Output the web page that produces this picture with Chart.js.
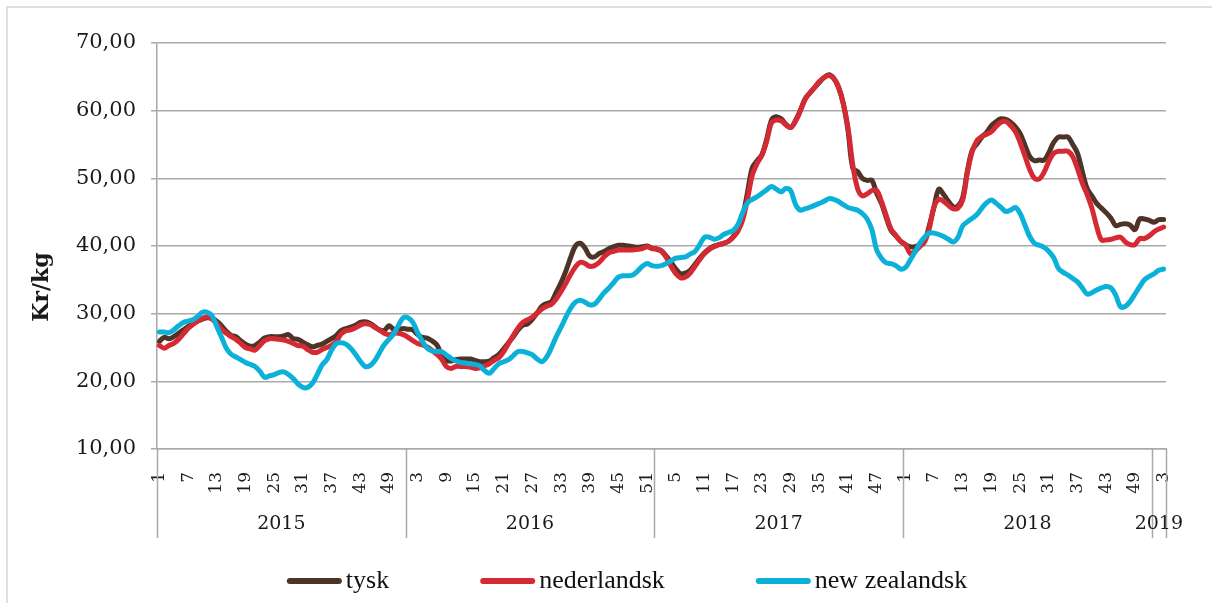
<!DOCTYPE html>
<html><head><meta charset="utf-8">
<script src="https://cdn.jsdelivr.net/npm/chart.js@4"></script>
<style>html,body{margin:0;padding:0;background:#fff;}canvas{display:block;}</style>
</head><body>
<canvas id="c" width="1212" height="603"></canvas>
<script>
const years = [2015, 2016, 2017, 2018, 2019];
const weeksPerYear = [52, 52, 52, 52, 3];
const seriesNames = ['tysk', 'nederlandsk', 'new zealandsk'];
const yTicks = [10, 20, 30, 40, 50, 60, 70];

const tysk = [
25.9,26.5,26.3,26.6,27.1,27.6,28.1,28.5,28.9,29.2,29.4,29.3,28.9,28.2,27.4,26.8,26.6,26.0,25.5,25.2,25.3,25.8,26.4,26.6,26.6,26.6,26.7,26.9,26.3,26.2,25.8,25.4,25.1,25.3,25.5,25.9,26.3,26.8,27.5,27.8,28.0,28.3,28.7,28.8,28.6,28.1,27.6,27.5,28.2,27.7,27.7,27.8,
27.7,27.6,26.9,26.5,26.4,26.0,25.4,24.0,23.1,23.0,23.2,23.3,23.3,23.3,23.1,22.9,22.9,23.0,23.5,24.0,24.8,25.7,26.6,27.6,28.3,28.5,29.2,30.1,31.1,31.5,31.8,33.2,34.6,36.3,38.3,40.0,40.4,39.7,38.5,38.4,38.9,39.2,39.6,39.9,40.1,40.1,40.0,39.9,39.8,39.9,40.0,39.7,
39.5,39.3,38.5,37.6,36.6,35.9,36.0,36.4,37.3,38.2,39.0,39.6,40.0,40.2,40.4,40.7,41.4,42.4,44.4,48.0,51.6,52.6,53.5,55.8,58.6,59.1,58.8,58.0,57.5,58.5,60.0,61.7,62.6,63.4,64.2,64.9,65.3,64.8,63.5,61.1,57.1,51.5,51.0,50.0,49.7,49.7,47.8,46.3,44.2,42.3,41.5,40.7,
40.2,39.9,39.9,40.2,40.7,43.0,45.8,48.4,47.6,46.6,45.8,45.9,47.2,51.2,54.2,55.1,56.1,56.8,57.8,58.4,58.8,58.7,58.3,57.6,56.6,54.9,53.2,52.6,52.7,52.7,53.8,55.3,56.1,56.1,56.1,55.0,53.7,51.0,48.5,47.4,46.3,45.6,44.9,44.1,43.0,43.2,43.3,43.1,42.4,44.0,44.0,43.8,
43.5,43.9,43.9
];
const nederlandsk = [
25.3,24.9,25.3,25.6,26.2,27.0,27.8,28.4,28.9,29.3,29.5,29.2,28.5,27.7,27.1,26.6,26.2,25.6,25.0,24.8,24.6,25.3,26.0,26.3,26.3,26.2,26.1,25.9,25.6,25.3,25.2,24.7,24.3,24.3,24.7,25.0,25.3,25.9,27.0,27.5,27.6,27.9,28.3,28.5,28.4,28.0,27.6,27.1,26.9,27.1,27.1,26.9,
26.5,26.0,25.6,25.4,25.1,24.6,24.0,23.3,22.2,21.9,22.2,22.2,22.2,22.1,21.9,22.0,22.3,22.6,23.1,23.5,24.4,25.6,26.8,27.9,28.7,29.1,29.5,30.1,30.7,31.1,31.4,32.2,33.3,34.5,35.8,36.9,37.6,37.4,37.0,37.1,37.6,38.4,39.0,39.2,39.4,39.4,39.4,39.4,39.5,39.6,39.9,39.6,
39.6,39.2,38.3,37.0,35.9,35.3,35.4,36.0,37.0,38.0,38.9,39.5,39.9,40.2,40.4,40.7,41.3,42.2,43.9,47.0,50.5,52.2,53.4,55.5,58.2,58.6,58.5,57.9,57.5,58.4,59.9,61.6,62.6,63.4,64.3,64.9,65.2,64.8,63.5,61.1,57.5,52.0,48.5,47.4,47.7,48.2,48.2,46.6,44.5,42.5,41.6,40.7,
40.2,38.9,39.2,39.9,40.6,42.6,45.8,46.9,46.6,46.0,45.5,45.6,46.8,51.0,54.0,55.6,56.2,56.5,56.9,57.7,58.3,58.4,57.8,56.9,55.3,53.3,51.3,50.0,49.9,50.9,52.5,53.7,54.0,54.0,54.0,53.2,51.4,49.3,47.6,45.6,42.9,40.9,40.9,41.0,41.2,41.3,40.6,40.2,40.2,41.1,41.1,41.5,
42.1,42.5,42.8
];
const newZealandsk = [
27.3,27.3,27.2,27.6,28.2,28.7,28.9,29.1,29.6,30.2,30.2,29.7,28.1,26.5,24.9,24.0,23.6,23.2,22.8,22.5,22.2,21.5,20.6,20.8,21.0,21.3,21.4,21.0,20.4,19.6,19.1,19.1,19.7,21.0,22.4,23.2,24.6,25.6,25.7,25.5,24.9,24.0,23.0,22.2,22.3,23.0,24.2,25.4,26.2,27.0,28.3,29.4,
29.4,28.7,27.2,25.9,24.9,24.5,24.4,24.4,23.9,23.4,23.0,22.8,22.7,22.6,22.5,22.3,21.6,21.2,21.9,22.6,22.9,23.2,23.8,24.4,24.4,24.2,23.9,23.3,22.9,23.6,25.0,26.6,28.0,29.5,30.8,31.7,32.0,31.7,31.3,31.4,32.2,33.1,33.8,34.6,35.4,35.6,35.6,35.7,36.3,37.0,37.4,37.1,
37.0,37.1,37.4,37.8,38.2,38.3,38.4,38.8,39.2,40.2,41.3,41.3,41.0,41.2,41.7,42.0,42.3,43.2,45.0,46.4,46.9,47.3,47.8,48.3,48.8,48.4,48.0,48.5,48.2,46.2,45.3,45.5,45.7,46.0,46.3,46.6,47.0,46.9,46.6,46.1,45.7,45.5,45.3,44.8,44.0,42.4,39.4,38.2,37.5,37.4,37.1,36.6,
36.8,37.9,39.1,40.4,41.3,41.9,41.9,41.7,41.4,41.0,40.6,41.3,43.0,43.6,44.1,44.7,45.6,46.4,46.8,46.3,45.7,45.1,45.3,45.7,44.8,43.1,41.4,40.4,40.1,39.8,39.2,38.3,36.7,36.1,35.7,35.2,34.7,33.8,32.9,33.1,33.5,33.8,34.0,33.8,32.7,31.0,31.1,31.8,32.9,34.0,35.0,35.5,
35.9,36.4,36.6
];

// categories: week numbers, grouped by year
const categories = [];
weeksPerYear.forEach(n => { for (let w = 1; w <= n; w++) categories.push(String(w)); });

const colors = ['#4e3427', '#d52a34', '#0cb1d9'];
const GRID = '#a9a9a9';
const SERIF = '"DejaVu Serif", Georgia, serif';

const decor = {
  id: 'decor',
  beforeDraw(chart) {
    const ctx = chart.ctx;
    ctx.save();
    ctx.fillStyle = '#fff';
    ctx.fillRect(0, 0, chart.width, chart.height);
    ctx.strokeStyle = '#d6d6d6';
    ctx.lineWidth = 1.5;
    ctx.beginPath();
    ctx.moveTo(7, chart.height);
    ctx.lineTo(7, 7);
    ctx.lineTo(chart.width, 7);
    ctx.stroke();
    ctx.restore();
  },
  afterDraw(chart) {
    const ctx = chart.ctx, xs = chart.scales.x, area = chart.chartArea;
    const w = xs.getPixelForValue(1) - xs.getPixelForValue(0);
    const bx = b => xs.getPixelForValue(0) - w / 2 + b * w;
    const bounds = [0];
    let acc = 0;
    weeksPerYear.forEach(n => { acc += n; bounds.push(acc); });
    ctx.save();
    // year group separators
    ctx.strokeStyle = GRID;
    ctx.lineWidth = 1.5;
    bounds.forEach(b => {
      const x = Math.round(bx(b)) + 0.5;
      ctx.beginPath();
      ctx.moveTo(x, area.bottom);
      ctx.lineTo(x, 538);
      ctx.stroke();
    });
    // year labels
    ctx.fillStyle = '#1a1a1a';
    ctx.font = '19px ' + SERIF;
    ctx.textAlign = 'center';
    ctx.textBaseline = 'middle';
    years.forEach((y, k) => ctx.fillText(String(y), (bx(bounds[k]) + bx(bounds[k + 1])) / 2, 524));
    // y axis title
    ctx.save();
    ctx.translate(42, 287);
    ctx.rotate(-Math.PI / 2);
    ctx.font = 'bold 22px ' + SERIF;
    ctx.fillText('Kr/kg', 0, 0);
    ctx.restore();
    // legend
    ctx.font = '26px "Liberation Serif", serif';
    const sw = 55, gapT = 4, gapI = 91;
    const widths = seriesNames.map(n => sw + gapT + ctx.measureText(n).width);
    const total = widths.reduce((a, b) => a + b, 0) + gapI * (seriesNames.length - 1);
    let x = 627 - total / 2;
    const ly = 581;
    ctx.textAlign = 'left';
    ctx.lineCap = 'round';
    seriesNames.forEach((n, k) => {
      ctx.strokeStyle = colors[k];
      ctx.lineWidth = 6;
      ctx.beginPath();
      ctx.moveTo(x + 3, ly);
      ctx.lineTo(x + sw - 3, ly);
      ctx.stroke();
      ctx.fillStyle = '#111';
      ctx.fillText(n, x + sw + gapT, ly);
      x += widths[k] + gapI;
    });
    ctx.restore();
  }
};

const mk = (label, data, k, order) => ({
  label, data,
  borderColor: colors[k], backgroundColor: colors[k],
  borderWidth: 5, pointRadius: 0, tension: 0.35,
  borderCapStyle: 'round', borderJoinStyle: 'round',
  order
});

new Chart(document.getElementById('c'), {
  type: 'line',
  data: {
    labels: categories,
    datasets: [
      mk(seriesNames[0], tysk, 0, 3),
      mk(seriesNames[1], nederlandsk, 1, 2),
      mk(seriesNames[2], newZealandsk, 2, 1)
    ]
  },
  options: {
    responsive: false,
    animation: false,
    devicePixelRatio: 1,
    layout: { padding: { left: 0, right: 46, top: 43, bottom: 0 } },
    plugins: { legend: { display: false }, tooltip: { enabled: false } },
    scales: {
      x: {
        type: 'category',
        offset: true,
        grid: { display: false },
        border: { display: true, color: GRID, width: 1.5 },
        ticks: {
          autoSkip: false, minRotation: 90, maxRotation: 90, padding: 15,
          color: '#1a1a1a', font: { family: SERIF, size: 17 },
          callback: (v, i) => (i % 6 === 0 ? categories[i] : '')
        },
        afterFit: s => { s.height = 154; }
      },
      y: {
        min: yTicks[0], max: yTicks[yTicks.length - 1],
        afterBuildTicks: s => { s.ticks = yTicks.map(v => ({ value: v })); },
        grid: { color: GRID, lineWidth: 1.5, tickLength: 6, drawTicks: true },
        border: { display: true, color: GRID, width: 1.5 },
        ticks: {
          padding: 15, color: '#1a1a1a', font: { family: SERIF, size: 21 },
          callback: v => v.toFixed(2).replace('.', ',')
        },
        afterFit: s => { s.width = 157; }
      }
    }
  },
  plugins: [decor]
});
</script>
</body></html>
